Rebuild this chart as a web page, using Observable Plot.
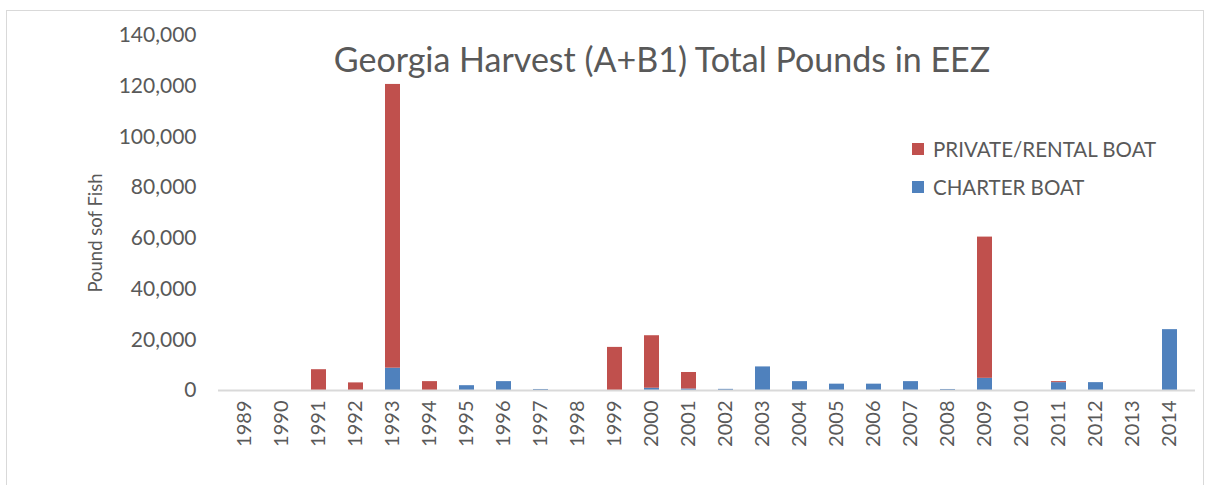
<!DOCTYPE html>
<html>
<head>
<meta charset="utf-8">
<script src="https://cdn.jsdelivr.net/npm/d3@7"></script>
<script src="https://cdn.jsdelivr.net/npm/@observablehq/plot@0.6"></script>
<style>
  body { margin: 0; background: #fff; font-family: Lato, "Open Sans", sans-serif; }
  #wrap { position: relative; width: 1206px; height: 485px; overflow: hidden; }
  #frame { position: absolute; left: 6px; top: 10px; width: 1198px; height: 480px; border: 1.5px solid #d9d9d9; box-sizing: border-box; }
  #title { position: absolute; left: 0; width: 1324px; top: 38px; text-align: center; font-size: 34px; color: #595959; white-space: nowrap; }
  #legend { position: absolute; left: 912px; top: 130px; font-size: 20.5px; color: #595959; }
  .item { display: flex; align-items: center; height: 38px; }
  .sw { width: 12px; height: 12px; margin-right: 9px; }
  #ylabel { position: absolute; left: 95px; top: 233px; transform: translate(-50%, -50%) rotate(-90deg); font-size: 18.5px; color: #595959; white-space: nowrap; }
  #chart { position: absolute; left: 0; top: 0; }
</style>
</head>
<body>
<div id="wrap">
  <div id="frame"></div>
  <div id="chart"></div>
  <div id="title">Georgia Harvest (A+B1) Total Pounds in EEZ</div>
  <div id="ylabel">Pound sof Fish</div>
  <div id="legend"></div>
</div>
<script>
const years = ["1989","1990","1991","1992","1993","1994","1995","1996","1997","1998","1999","2000","2001","2002","2003","2004","2005","2006","2007","2008","2009","2010","2011","2012","2013","2014"];
const charterBoat = [0, 0, 0, 0, 8800, 0, 1900, 3500, 400, 0, 0, 900, 600, 450, 9300, 3500, 2500, 2500, 3500, 400, 4800, 0, 3100, 3100, 0, 24000];
const privateRentalBoat = [0, 0, 8200, 3000, 111900, 3500, 0, 0, 0, 0, 17000, 20700, 6500, 0, 0, 0, 0, 0, 0, 0, 55700, 0, 400, 0, 0, 0];
const seriesNames = ["CHARTER BOAT", "PRIVATE/RENTAL BOAT"];
const seriesColors = ["#4F81BD", "#C0504D"];
const yTicks = [0, 20000, 40000, 60000, 80000, 100000, 120000, 140000];

const rows = [];
years.forEach((y, i) => {
  rows.push({year: y, series: seriesNames[0], value: charterBoat[i]});
  rows.push({year: y, series: seriesNames[1], value: privateRentalBoat[i]});
});

const fmt = d3.format(",");
const chart = Plot.plot({
  width: 1206,
  height: 485,
  marginTop: 35,
  marginBottom: 95,
  marginLeft: 218,
  marginRight: 11,
  style: {fontFamily: "Lato, 'Open Sans', sans-serif", color: "#595959", background: "transparent"},
  x: {domain: years, paddingInner: 0.6, paddingOuter: 0.3, label: null},
  y: {domain: [0, 140000], label: null},
  color: {domain: seriesNames, range: seriesColors},
  marks: [
    Plot.barY(rows, {x: "year", y: "value", fill: "series"}),
    Plot.ruleY([0], {stroke: "#d9d9d9", strokeWidth: 2}),
    Plot.axisY(yTicks, {tickSize: 0, tickPadding: 22, tickFormat: fmt, fontSize: 21, fill: "#595959", label: null}),
    Plot.axisX({tickSize: 0, tickPadding: 10, tickRotate: -90, fontSize: 20, fill: "#595959", label: null})
  ]
});
document.getElementById("chart").appendChild(chart);

const legend = document.getElementById("legend");
[1, 0].forEach(i => {
  const d = document.createElement("div");
  d.className = "item";
  d.innerHTML = `<div class="sw" style="background:${seriesColors[i]}"></div><span>${seriesNames[i]}</span>`;
  legend.appendChild(d);
});
</script>
</body>
</html>
